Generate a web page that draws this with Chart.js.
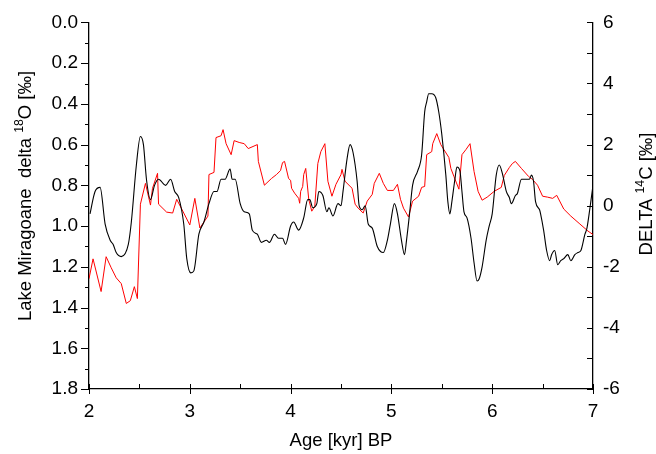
<!DOCTYPE html>
<html>
<head>
<meta charset="utf-8">
<script src="https://cdn.jsdelivr.net/npm/chart.js@4"></script>
<style>
  html, body { margin: 0; padding: 0; background: #fff; }
</style>
</head>
<body>
<canvas id="chart" width="656" height="454"></canvas>
<script>
// Lake Miragoane delta 18O (left axis, reversed)
var o18Age = [2.01, 2.06, 2.11, 2.16, 2.21, 2.24, 2.27, 2.32, 2.39, 2.42, 2.47, 2.51, 2.54, 2.57, 2.61, 2.65, 2.69, 2.76, 2.81,
    2.85, 2.89, 2.94, 2.97, 3.01, 3.04, 3.09, 3.14, 3.19, 3.24, 3.27, 3.31, 3.35, 3.40, 3.42, 3.45, 3.50, 3.54, 3.59, 3.62, 3.67,
    3.71, 3.76, 3.79, 3.84, 3.88, 3.92, 3.95, 4.00, 4.03, 4.08, 4.13, 4.17, 4.19, 4.22, 4.26, 4.28, 4.32, 4.36, 4.38, 4.42, 4.47, 4.50,
    4.52, 4.56, 4.59, 4.62, 4.66, 4.68, 4.71, 4.74, 4.77, 4.81, 4.86, 4.92, 4.96, 4.99, 5.03, 5.06, 5.10, 5.13, 5.15, 5.18, 5.21, 5.26, 5.30, 5.33,
    5.35, 5.37, 5.40, 5.44, 5.47, 5.50, 5.54, 5.56, 5.58, 5.60, 5.63, 5.65, 5.68, 5.70, 5.72, 5.75, 5.79, 5.82, 5.85, 5.87, 5.90, 5.94, 5.97, 6.00, 6.04, 6.07, 6.10, 6.14, 6.17,
    6.19, 6.23, 6.25, 6.29, 6.33, 6.37, 6.39, 6.41, 6.43, 6.47, 6.48, 6.51, 6.54, 6.57, 6.59, 6.62, 6.65, 6.68, 6.71, 6.75, 6.78, 6.82, 6.85, 6.88, 6.92, 6.94, 6.97, 7.00];
var o18Val = [0.94, 0.83, 0.81, 0.99, 1.07, 1.09, 1.13, 1.15, 1.09, 0.98, 0.70, 0.56, 0.60, 0.77, 0.87, 0.80, 0.77, 0.80, 0.77,
    0.83, 0.86, 0.99, 1.16, 1.23, 1.22, 1.04, 0.98, 0.89, 0.83, 0.83, 0.77, 0.77, 0.72, 0.77, 0.77, 0.89, 0.93, 0.94, 1.02, 1.04,
    1.08, 1.07, 1.08, 1.04, 1.06, 1.06, 1.09, 1.00, 0.98, 1.02, 0.96, 0.87, 0.87, 0.91, 0.89, 0.83, 0.85, 0.93, 0.91, 0.95, 0.89, 0.90,
    0.83, 0.67, 0.60, 0.64, 0.78, 0.90, 0.92, 0.90, 0.99, 1.01, 1.10, 1.13, 1.07, 0.99, 0.89, 0.94, 1.07, 1.14, 1.07, 0.94, 0.80, 0.73, 0.65, 0.44,
    0.39, 0.35, 0.35, 0.37, 0.44, 0.55, 0.75, 0.88, 0.94, 0.88, 0.77, 0.71, 0.73, 0.83, 0.93, 0.96, 1.06, 1.18, 1.27, 1.26, 1.20, 1.07, 1.00, 0.94, 0.75, 0.70, 0.74, 0.83, 0.86,
    0.89, 0.85, 0.84, 0.77, 0.77, 0.77, 0.75, 0.78, 0.88, 0.92, 0.94, 1.02, 1.12, 1.17, 1.14, 1.12, 1.19, 1.17, 1.16, 1.14, 1.17, 1.14, 1.13, 1.12, 1.04, 1.01, 0.91, 0.80];

// DELTA 14C (right axis)
var c14Age = [2.00, 2.04, 2.12, 2.17, 2.22, 2.27, 2.32, 2.37, 2.41, 2.45, 2.48, 2.51, 2.56, 2.61, 2.63, 2.68, 2.69, 2.77, 2.83,
    2.87, 2.92, 3.00, 3.05, 3.10, 3.18, 3.19, 3.24, 3.26, 3.31, 3.33, 3.36, 3.41, 3.44, 3.49, 3.54, 3.58, 3.67,
    3.68, 3.74, 3.81, 3.86, 3.90, 3.92, 3.94, 3.98, 4.00, 4.01, 4.04, 4.08, 4.09, 4.10, 4.12, 4.13, 4.15, 4.18, 4.21, 4.24, 4.27, 4.30, 4.34, 4.37, 4.41, 4.45, 4.50,
    4.51, 4.54, 4.61, 4.64, 4.67, 4.72, 4.76, 4.81, 4.83, 4.88, 4.92, 4.96, 5.02, 5.06, 5.09, 5.12, 5.17, 5.21, 5.27, 5.30, 5.33,
    5.35, 5.40, 5.41, 5.45, 5.49, 5.52, 5.57, 5.59, 5.62, 5.67, 5.70, 5.74, 5.78, 5.82, 5.86, 5.90, 5.95, 6.02, 6.09, 6.12, 6.17,
    6.20, 6.23, 6.29, 6.36, 6.40, 6.45, 6.50, 6.55, 6.60, 6.64, 6.71, 6.78, 6.87, 6.95, 7.02];
var c14Val = [-2.39, -1.74, -2.81, -1.67, -2.03, -2.36, -2.55, -3.20, -3.11, -2.65, -3.04, 0.05, 0.73, 0.02, 0.57, 1.06, 0.05, -0.21, -0.24,
    0.21, -0.11, -0.63, 0.24, -0.73, -0.34, 1.02, 1.09, 2.23, 2.29, 2.49, 2.03, 1.67, 2.13, 2.07, 2.03, 1.87, 2.00,
    1.45, 0.67, 0.89, 1.02, 1.15, 1.41, 1.45, 0.89, 0.83, 0.57, 0.41, 0.24, 0.08, 0.47, 0.63, 1.02, 1.22, 0.21, -0.18, -0.02, 1.38, 1.77, 2.03, 0.80, 0.31, 0.70, 1.02,
    1.19, 0.80, 0.57, 0.05, -0.08, -0.24, 0.15, 0.37, 0.73, 1.06, 0.73, 0.50, 0.50, 0.70, 0.21, -0.08, -0.37, 0.15, 0.31, 0.60, 0.63,
    1.67, 1.77, 2.03, 2.36, 2.00, 1.84, 1.58, 1.22, 0.96, 0.54, 1.67, 1.84, 2.03, 1.12, 0.47, 0.18, 0.28, 0.47, 0.60, 0.99, 1.25,
    1.38, 1.45, 1.22, 0.96, 0.86, 0.67, 0.31, 0.28, 0.24, 0.34, -0.11, -0.34, -0.60, -0.83, -0.99];

var ageTicks = [2, 3, 4, 5, 6, 7];
var o18Ticks = [0.0, 0.2, 0.4, 0.6, 0.8, 1.0, 1.2, 1.4, 1.6, 1.8];
var c14Ticks = [-6, -4, -2, 0, 2, 4, 6];

var FONT = '"Liberation Sans", Arial, sans-serif';

function toPoints(xs, ys) {
    return xs.map(function(x, i) { return { x: x, y: ys[i] }; });
}

// draws text rotated -90deg with superscript parts
function drawVerticalTitle(ctx, cx, cy, parts, size) {
    ctx.save();
    ctx.translate(cx, cy);
    ctx.rotate(-Math.PI / 2);
    ctx.fillStyle = "#000";
    ctx.textBaseline = "alphabetic";
    var total = 0;
    parts.forEach(function(p) {
        ctx.font = (p.sup ? size * 0.66 : size) + "px " + FONT;
        p.w = ctx.measureText(p.t).width;
        total += p.w;
    });
    var xx = -total / 2;
    parts.forEach(function(p) {
        ctx.font = (p.sup ? size * 0.66 : size) + "px " + FONT;
        ctx.fillText(p.t, xx, size * 0.36 - (p.sup ? size * 0.4 : 0));
        xx += p.w;
    });
    ctx.restore();
}

var axisDecor = {
    id: "axisDecor",
    afterDraw: function(chart) {
        var ctx = chart.ctx, a = chart.chartArea;
        var sx = chart.scales.x, sy = chart.scales.y, sy2 = chart.scales.y2;
        ctx.save();
        ctx.strokeStyle = "#000";
        ctx.lineWidth = 1;
        ctx.beginPath();
        // bottom: majors in and out, minors in
        for (var v = 2; v <= 7.001; v += 0.5) {
            var px = Math.round(sx.getPixelForValue(v)) + 0.5;
            var major = Math.abs(v - Math.round(v)) < 1e-6;
            ctx.moveTo(px, a.bottom - 5);
            ctx.lineTo(px, a.bottom + (major ? 5 : 0));
        }
        // left: outward ticks
        for (var w = 0; w <= 1.801; w += 0.1) {
            var py = Math.round(sy.getPixelForValue(w)) + 0.5;
            var maj = Math.round(w * 10) % 2 === 0;
            ctx.moveTo(a.left - (maj ? 8 : 4), py);
            ctx.lineTo(a.left, py);
        }
        // right: inward ticks
        for (var k = -6; k <= 6; k++) {
            var qy = Math.round(sy2.getPixelForValue(k)) + 0.5;
            ctx.moveTo(a.right - 6, qy);
            ctx.lineTo(a.right, qy);
        }
        ctx.stroke();
        ctx.restore();

        drawVerticalTitle(ctx, 24, 196, [
            { t: "Lake Miragoane  delta " }, { t: "18", sup: true }, { t: "O [\u2030]" }
        ], 18.5);
        drawVerticalTitle(ctx, 645, 194, [
            { t: "DELTA " }, { t: "14", sup: true }, { t: "C [\u2030]" }
        ], 18.5);
    }
};

var tickFont = { family: FONT, size: 19 };

new Chart(document.getElementById("chart"), {
    type: "line",
    data: {
        datasets: [
            {
                label: "delta 18O",
                data: toPoints(o18Age, o18Val),
                yAxisID: "y",
                borderColor: "#000000",
                borderWidth: 1.1,
                pointRadius: 0,
                cubicInterpolationMode: "monotone",
                fill: false
            },
            {
                label: "DELTA 14C",
                data: toPoints(c14Age, c14Val),
                yAxisID: "y2",
                borderColor: "#ff0000",
                borderWidth: 1,
                pointRadius: 0,
                tension: 0,
                fill: false
            }
        ]
    },
    options: {
        responsive: false,
        animation: false,
        layout: { padding: { top: 20, left: 0, right: 0, bottom: 0 } },
        plugins: { legend: { display: false }, tooltip: { enabled: false } },
        scales: {
            x: {
                type: "linear",
                position: "bottom",
                min: 2,
                max: 7,
                afterBuildTicks: function(s) { s.ticks = ageTicks.map(function(v) { return { value: v }; }); },
                ticks: { color: "#000", font: tickFont, padding: 11, maxRotation: 0 },
                grid: { display: false, drawTicks: false },
                border: { color: "#000", width: 1.3 },
                title: { display: true, text: "Age [kyr] BP", color: "#000", font: { family: FONT, size: 18.5 }, padding: { top: 0, bottom: 2 } },
                afterFit: function(s) { s.height = 65; }
            },
            y: {
                position: "left",
                reverse: true,
                min: 0,
                max: 1.8,
                afterBuildTicks: function(s) { s.ticks = o18Ticks.map(function(v) { return { value: v }; }); },
                ticks: { color: "#000", font: tickFont, padding: 11, callback: function(v) { return Number(v).toFixed(1); } },
                grid: { display: false, drawTicks: false },
                border: { color: "#000", width: 1.3 },
                afterFit: function(s) { s.width = 89; }
            },
            y2: {
                position: "right",
                min: -6,
                max: 6,
                afterBuildTicks: function(s) { s.ticks = c14Ticks.map(function(v) { return { value: v }; }); },
                ticks: { color: "#000", font: tickFont, padding: 10 },
                grid: { display: false, drawTicks: false },
                border: { color: "#000", width: 1.3 },
                afterFit: function(s) { s.width = 63; }
            }
        }
    },
    plugins: [axisDecor]
});
</script>
</body>
</html>
